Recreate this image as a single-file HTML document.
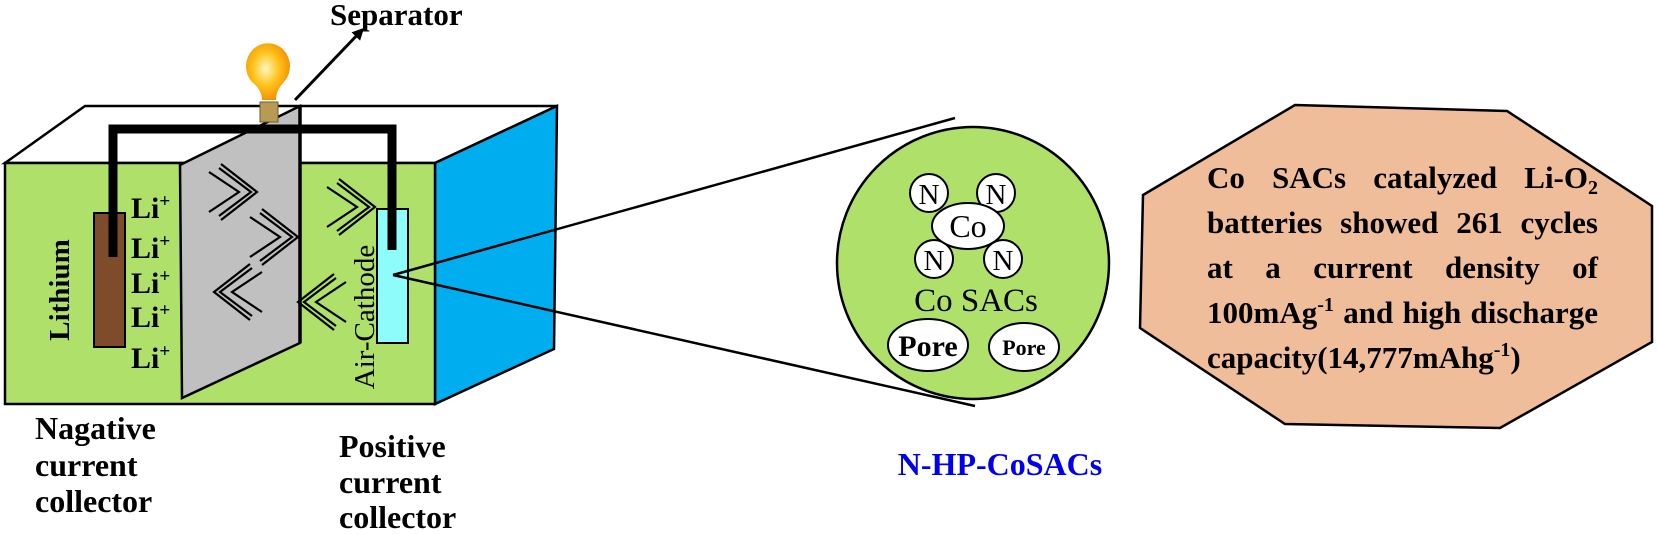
<!DOCTYPE html>
<html><head><meta charset="utf-8"><style>
html,body{margin:0;padding:0;background:#fff;}
body{position:relative;width:1658px;height:534px;overflow:hidden;}
svg{display:block;position:absolute;left:0;top:0;}
text{font-family:"Liberation Serif",serif;}
#oct{position:absolute;left:1207px;top:155px;width:391px;font-family:"Liberation Serif",serif;font-weight:bold;font-size:31px;line-height:45px;color:#000;}
#oct div{text-align:justify;text-align-last:justify;white-space:nowrap;height:45px;}
#oct div.l{text-align-last:left;}
#oct sup{font-size:20px;line-height:0;vertical-align:0;position:relative;top:-12px;}
#oct sub{font-size:20px;line-height:0;position:relative;top:6px;vertical-align:0;}
</style></head><body>
<svg width="1658" height="534" viewBox="0 0 1658 534" xmlns="http://www.w3.org/2000/svg">
<defs>
<radialGradient id="bulb" cx="0.45" cy="0.45" r="0.6">
<stop offset="0" stop-color="#fff7c0"/><stop offset="0.5" stop-color="#ffc21a"/><stop offset="1" stop-color="#f08a00"/>
</radialGradient>
<marker id="ah" markerWidth="12" markerHeight="12" refX="9" refY="6" orient="auto" markerUnits="userSpaceOnUse"><path d="M0,0 L12,6 L0,12 z" fill="#000"/></marker>
</defs>
<polygon points="5,163 85,106 557,106 435,163" fill="#fff" stroke="#000" stroke-width="2.5"/>
<polygon points="435,163 557,106 554,349 435,404" fill="#00aeef" stroke="#000" stroke-width="2.5"/>
<rect x="5" y="163" width="430" height="241" fill="#afe16a" stroke="#000" stroke-width="2.5"/>
<polygon points="180,165 300,106 300,343 182,398" fill="#c0c0c0" stroke="#000" stroke-width="2.5"/>
<line x1="300" y1="106" x2="300" y2="343" stroke="#000" stroke-width="3.5"/>
<rect x="94" y="213" width="31" height="134" fill="#7e4c2a" stroke="#000" stroke-width="2"/>
<rect x="377" y="209" width="31" height="134" fill="#8ffcfc" stroke="#000" stroke-width="2"/>
<polyline points="113,257 113,129 392,129 392,250" fill="none" stroke="#000" stroke-width="9"/>
<rect x="260" y="102" width="18" height="20" fill="#b89a55" stroke="#6b5a2a" stroke-width="1"/>
<path d="M262,100 Q262,90 252,82 A22,23 0 1 1 284,82 Q276,90 276,100 Z" fill="url(#bulb)"/>
<line x1="295" y1="100" x2="362" y2="30" stroke="#000" stroke-width="3" marker-end="url(#ah)"/>
<text x="330" y="25" font-size="31" font-weight="bold">Separator</text>
<g fill="none" stroke="#000" stroke-width="2.2">
<g transform="translate(209,172)"><polyline points="0,0 30,20 0,40"/><polyline points="6,-4 38,20 6,44" transform="translate(4,0)"/><polyline points="10,-8 46,20 10,48" transform="translate(2,0)"/></g>
<g transform="translate(250,217)"><polyline points="0,0 30,20 0,40"/><polyline points="6,-4 38,20 6,44" transform="translate(4,0)"/><polyline points="10,-8 46,20 10,48" transform="translate(2,0)"/></g>
<g transform="translate(327,187)"><polyline points="0,0 30,20 0,40"/><polyline points="6,-4 38,20 6,44" transform="translate(4,0)"/><polyline points="10,-8 46,20 10,48" transform="translate(2,0)"/></g>
<g transform="translate(262,272) scale(-1,1)"><polyline points="0,0 30,20 0,40"/><polyline points="6,-4 38,20 6,44" transform="translate(4,0)"/><polyline points="10,-8 46,20 10,48" transform="translate(2,0)"/></g>
<g transform="translate(346,282) scale(-1,1)"><polyline points="0,0 30,20 0,40"/><polyline points="6,-4 38,20 6,44" transform="translate(4,0)"/><polyline points="10,-8 46,20 10,48" transform="translate(2,0)"/></g>
</g>
<g font-size="30" font-weight="bold">
<text x="131" y="218">Li<tspan dy="-11" font-size="19">+</tspan></text>
<text x="131" y="258">Li<tspan dy="-11" font-size="19">+</tspan></text>
<text x="131" y="293">Li<tspan dy="-11" font-size="19">+</tspan></text>
<text x="131" y="327">Li<tspan dy="-11" font-size="19">+</tspan></text>
<text x="131" y="368">Li<tspan dy="-11" font-size="19">+</tspan></text>
</g>
<text transform="translate(69,290) rotate(-90)" text-anchor="middle" font-size="29" font-weight="bold">Lithium</text>
<text transform="translate(374,317) rotate(-90)" text-anchor="middle" font-size="29">Air-Cathode</text>
<g font-size="32" font-weight="bold">
<text x="35" y="439">Nagative</text><text x="35" y="476">current</text><text x="35" y="512">collector</text>
<text x="339" y="457">Positive</text><text x="339" y="493">current</text><text x="339" y="528">collector</text>
</g>
<line x1="393" y1="275" x2="955" y2="118" stroke="#000" stroke-width="2.5"/>
<line x1="393" y1="275" x2="975" y2="406" stroke="#000" stroke-width="2.5"/>
<circle cx="973" cy="263" r="136" fill="#afe16a" stroke="#000" stroke-width="2.5"/>
<g fill="#fff" stroke="#000" stroke-width="2">
<circle cx="929" cy="193" r="19"/><circle cx="996" cy="193" r="19"/>
<circle cx="934" cy="259" r="19"/><circle cx="1003" cy="259" r="19"/>
<ellipse cx="968" cy="226" rx="36" ry="23"/>
<ellipse cx="928" cy="345" rx="40" ry="26"/>
<ellipse cx="1024" cy="347" rx="35" ry="24"/>
</g>
<g font-size="29" text-anchor="middle">
<text x="929" y="204">N</text><text x="996" y="204">N</text>
<text x="934" y="270">N</text><text x="1003" y="270">N</text>
<text x="968" y="237" font-size="32">Co</text>
</g>
<text x="976" y="311" font-size="33" text-anchor="middle">Co SACs</text>
<text x="928" y="356" font-size="30" font-weight="bold" text-anchor="middle">Pore</text>
<text x="1024" y="355" font-size="22" font-weight="bold" text-anchor="middle">Pore</text>
<text x="1000" y="475" font-size="32" font-weight="bold" fill="#0000ee" text-anchor="middle">N-HP-CoSACs</text>
<polygon points="1295,105 1507,111 1652,206 1652,342 1500,428 1285,424 1140,328 1143,195" fill="#f0bd9a" stroke="#000" stroke-width="2.5"/>
</svg>
<div id="oct">
<div>Co SACs catalyzed Li-O<sub>2</sub></div>
<div>batteries showed 261 cycles</div>
<div>at a current density of</div>
<div>100mAg<sup>-1</sup> and high discharge</div>
<div class="l">capacity(14,777mAhg<sup>-1</sup>)</div>
</div>
</body></html>
